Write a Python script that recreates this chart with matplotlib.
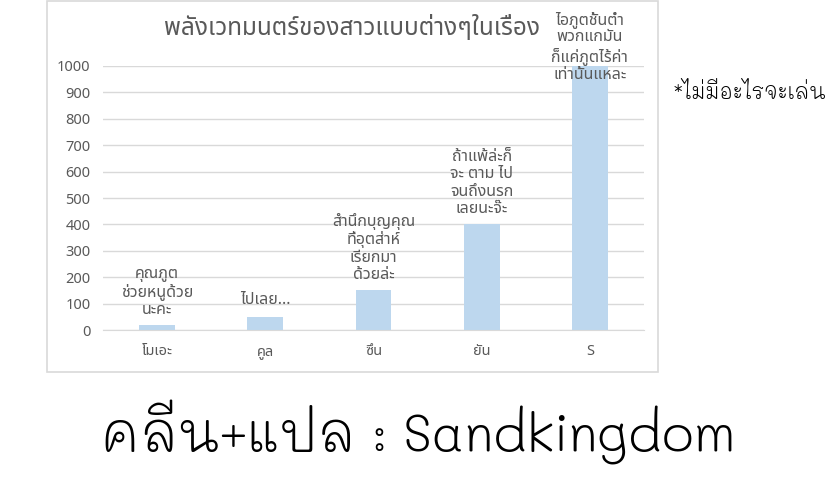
import numpy as np
import matplotlib
matplotlib.use('Agg')
import matplotlib.pyplot as plt
from matplotlib.patches import Rectangle

plt.rcParams['font.family'] = ['Noto Sans Thai', 'DejaVu Sans']

categories = ['โมเอะ', 'คูล', 'ซึน', 'ยัน', 'S']
values = [20, 50, 150, 400, 1000]
notes = ['คุณภูต\nช่วยหนูด้วย\nนะคะ',
         'ไปเลย...',
         'สำนึกบุญคุณ\nที่อุตส่าห์\nเรียกมา\nด้วยล่ะ',
         'ถ้าแพ้ล่ะก็\nจะ ตาม ไป\nจนถึงนรก\nเลยนะจ๊ะ',
         'ไอภูตชั้นต่ำ\nพวกแกมัน\nก็แค่ภูตไร้ค่า\nเท่านั้นแหละ']
note_offsets = [5, 6, 5, 5, -12]  # points above bar top
yticks = np.arange(0, 1001, 100)

grey = '#595959'

fig = plt.figure(figsize=(8.35, 5), dpi=100)
ax = fig.add_axes([0.1234, 0.34, 0.6479, 0.528])

# chart frame
fig.patches.append(Rectangle((0.056, 0.256), 0.732, 0.742, transform=fig.transFigure,
                             fill=False, edgecolor='#D9D9D9', linewidth=1.2))

x = np.arange(len(categories))
ax.bar(x, values, width=0.33, color='#BDD7EE', zorder=2)
ax.set_xlim(-0.5, len(categories) - 0.5)
ax.set_ylim(0, 1000)
ax.set_yticks(yticks)
ax.set_xticks(x)
ax.set_xticklabels(categories)
ax.tick_params(axis='both', length=0, labelsize=10.5, labelcolor=grey)
ax.tick_params(axis='x', pad=10)
ax.tick_params(axis='y', pad=9)
ax.yaxis.grid(True, color='#D9D9D9', linewidth=1, zorder=0)
ax.set_axisbelow(True)
for s in ['top', 'right', 'left']:
    ax.spines[s].set_visible(False)
ax.spines['bottom'].set_color('#D9D9D9')

for xi, v, note, off in zip(x, values, notes, note_offsets):
    ax.annotate(note, (xi, v), xytext=(0, off), textcoords='offset points',
                ha='center', va='bottom', fontsize=11.5, color=grey,
                linespacing=1.13, zorder=3, annotation_clip=False)

fig.text(352 / 835, 1 - 28 / 500, 'พลังเวทมนตร์ของสาวแบบต่างๆในเรื่อง',
         ha='center', va='center', fontsize=17.5, color=grey)

fig.text(673 / 835, 1 - 93 / 500, '*ไม่มีอะไรจะเล่น', family=['Mali', 'DejaVu Sans'],
         fontweight=300, ha='left', va='center', fontsize=15, color='black')
fig.text(419 / 835, 1 - 432 / 500, 'คลีน+แปล : Sandkingdom', family=['Mali', 'DejaVu Sans'],
         fontweight=300, ha='center', va='center', fontsize=38, color='black')

fig.savefig('out.png', dpi=100)
